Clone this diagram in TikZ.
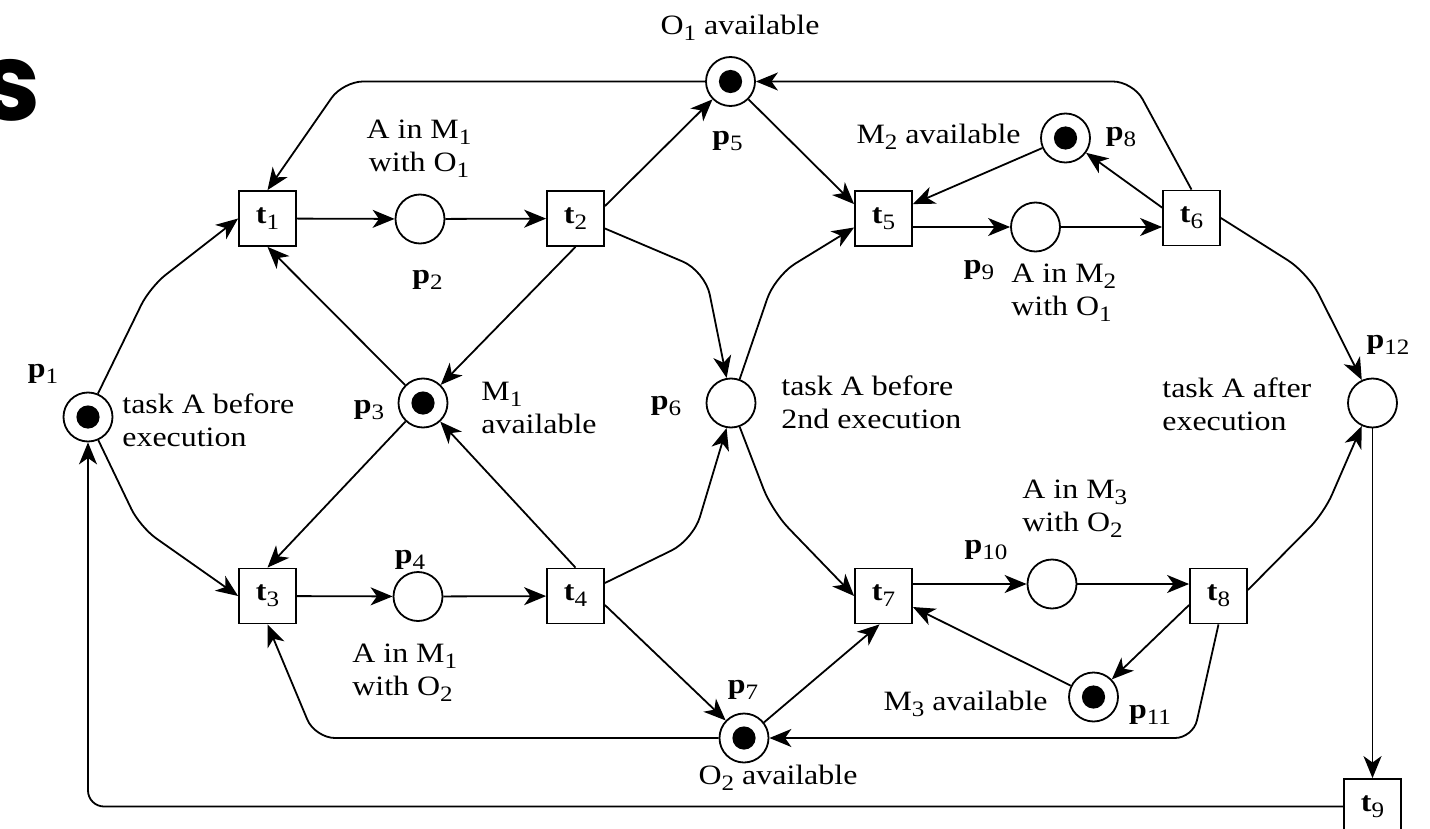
\documentclass[tikz,border=0pt]{standalone}
\usepackage{fontspec}
\setmainfont{Liberation Serif}[FakeStretch=1.14]
\newfontfamily\headfont{Poppins}
\usetikzlibrary{arrows.meta,calc}

% lowered index, a little smaller than the text
\newcommand\ix[1]{\raisebox{-3pt}{\fontsize{11}{11}\selectfont #1}}
% place and transition labels: bold letter, plain index
\newcommand\pn[1]{\textbf{p}\ix{#1}}
\newcommand\tn[1]{\textbf{t}\ix{#1}}

\begin{document}
\begin{tikzpicture}[x=0.5pt,y=-0.5pt,
  font=\fontsize{14}{16.5}\selectfont,
  lw/.style={line width=0.9pt},
  plc/.style={circle,draw,lw,minimum size=24.5pt,inner sep=0pt},
  marked/.style={plc,path picture={\fill (path picture bounding box.center) circle[radius=5.8pt];}},
  trn/.style={rectangle,draw,lw,minimum width=28.5pt,minimum height=27.5pt,inner sep=0pt},
  flow/.style={lw,-{Stealth[length=11pt,width=9pt,inset=3.2pt]}},
  note/.style={inner sep=0pt,align=left},
  rc/.style={rounded corners=#1},
]
\useasboundingbox (0,0) rectangle (1430,829);

% fragment of a heading at the left edge
\node[anchor=base east,inner sep=0pt,font=\headfont\bfseries\fontsize{54}{60}\selectfont] (head) at (41,121) {s};

% places
\node[marked] (p1) at (88,417) {};
\node[plc]    (p2) at (420,219) {};
\node[marked] (p3) at (423,403) {};
\node[plc]    (p4) at (418,596.5) {};
\node[marked] (p5) at (730.5,81.5) {};
\node[plc]    (p6) at (731,403) {};
\node[marked] (p7) at (744,738) {};
\node[marked] (p8) at (1065.5,138) {};
\node[plc]    (p9) at (1035.5,227) {};
\node[plc]    (p10) at (1052,584) {};
\node[marked] (p11) at (1093.5,697) {};
\node[plc]    (p12) at (1372.5,403) {};

% transitions
\node[trn] (t1) at (267.5,218.5) {\tn{1}};
\node[trn] (t2) at (575.5,218.5) {\tn{2}};
\node[trn] (t3) at (267.5,596) {\tn{3}};
\node[trn] (t4) at (575.5,596) {\tn{4}};
\node[trn] (t5) at (883.5,218.5) {\tn{5}};
\node[trn] (t6) at (1191.5,218) {\tn{6}};
\node[trn] (t7) at (883.5,596) {\tn{7}};
\node[trn] (t8) at (1218.5,596) {\tn{8}};
\node[trn] (t9) at (1372.5,806.5) {\tn{9}};

% bends of the curved arcs
\coordinate (k1) at (150,287);
\coordinate (k2) at (140,527);
\coordinate (k3) at (343,81.5);
\coordinate (k4) at (1133,81.5);
\coordinate (k5) at (705,271);
\coordinate (k6) at (775,276);
\coordinate (k7) at (693,540);
\coordinate (k8) at (772,511);
\coordinate (k9) at (315,738);
\coordinate (k10) at (1193,738);
\coordinate (k11) at (1308,273);
\coordinate (k12) at (1324,513);

% arcs
\draw[flow,rc=10pt] (p1.67) -- (k1) -- (t1.west);
\draw[flow,rc=10pt] (p1.-66) -- (k2) -- (t3.west);
\draw[flow] (t1) -- (p2);
\draw[flow] (p2) -- (t2);
\draw[flow] ($(t2.north east)+(0,16)$) -- (p5);
\draw[flow] (p5) -- ($(t5.north west)+(0,14)$);
\draw[flow] (t2.south) -- (p3);
\draw[flow] (p3) -- (t1.south);
\draw[flow] (p3) -- (t3.north);
\draw[flow] (t4.north) -- (p3);
\draw[flow] (t3) -- (p4);
\draw[flow] (p4) -- (t4);
\draw[flow,rc=10pt] (p5.west) -- (k3) -- (t1.north);
\draw[flow,rc=10pt] (t6.north) -- (k4) -- (p5.east);
\draw[flow,rc=12pt] ($(t2.east)+(0,10)$) -- (k5) -- (p6.100);
\draw[flow,rc=12pt] (p6.70) -- (k6) -- ($(t5.west)+(0,9)$);
\draw[flow,rc=12pt] ($(t4.east)+(0,-13)$) -- (k7) -- (p6.-100);
\draw[flow,rc=12pt] (p6.-70) -- (k8) -- (t7.west);
\draw[flow] ($(t4.east)+(0,9)$) -- (p7);
\draw[flow,rc=10pt] (p7.west) -- (k9) -- (t3.south);
\draw[flow,rc=9pt] (t8.south) -- (k10) -- (p7.east);
\draw[flow] (p7.38) -- ($(t7.south)+(-4,0)$);
\draw[flow] (t5.east |- p9.west) -- (p9.west);
\draw[flow] (p9.east) -- (t6.west |- p9.east);
\draw[flow] (p8) -- ($(t5.north east)+(0,14)$);
\draw[flow] ($(t6.north west)+(0,18)$) -- (p8);
\draw[flow,rc=12pt] (t6.east) -- (k11) -- (p12.115);
\draw[flow,rc=10pt] ($(t8.east)+(0,-6)$) -- (k12) -- (p12.-115);
\draw[flow] (p12.south) -- (t9.north);
\draw[flow,rc=8pt] (t9.west) -| (p1.south);
\draw[flow] (t7.east |- p10.west) -- (p10.west);
\draw[flow] (p10.east) -- (t8.west |- p10.east);
\draw[flow] ($(t8.west)+(0,9)$) -- (p11);
\draw[flow] (p11) -- ($(t7.east)+(0,11)$);

% place names
\node (lp1) at (43,373.5) {\pn{1}};
\node (lp2) at (427.5,280) {\pn{2}};
\node (lp3) at (369,410) {\pn{3}};
\node (lp4) at (410,560) {\pn{4}};
\node (lp5) at (727.5,141) {\pn{5}};
\node (lp6) at (666,406.5) {\pn{6}};
\node (lp7) at (743,690) {\pn{7}};
\node (lp8) at (1121,137.5) {\pn{8}};
\node (lp9) at (979,270) {\pn{9}};
\node (lp10) at (986,550) {\pn{10}};
\node (lp11) at (1150,714.5) {\pn{11}};
\node (lp12) at (1388,345) {\pn{12}};

% place meanings
\node[anchor=base,inner sep=0pt] (d5) at (740,35) {O\ix{1} available};
\node[note,align=center] (d2) at (419,149) {A in M\ix{1}\\with O\ix{1}};
\node[note,anchor=west] (d1) at (122,420) {task A before\\execution};
\node[note,anchor=west] (d3) at (481,408) {M\ix{1}\\available};
\node[note,anchor=west] (d4) at (352,673) {A in M\ix{1}\\with O\ix{2}};
\node[note,anchor=west] (d6) at (781,402) {task A before\\2nd execution};
\node[anchor=base east,inner sep=0pt] (d8) at (1021,143) {M\ix{2} available};
\node[note,anchor=west] (d9) at (1011,293) {A in M\ix{2}\\with O\ix{1}};
\node[note,anchor=west] (d12) at (1162,404) {task A after\\execution};
\node[note,anchor=west] (d10) at (1022,509) {A in M\ix{3}\\with O\ix{2}};
\node[anchor=base east,inner sep=0pt] (d11) at (1048,710) {M\ix{3} available};
\node[anchor=base,inner sep=0pt] (d7) at (778,784) {O\ix{2} available};
\end{tikzpicture}
\end{document}
